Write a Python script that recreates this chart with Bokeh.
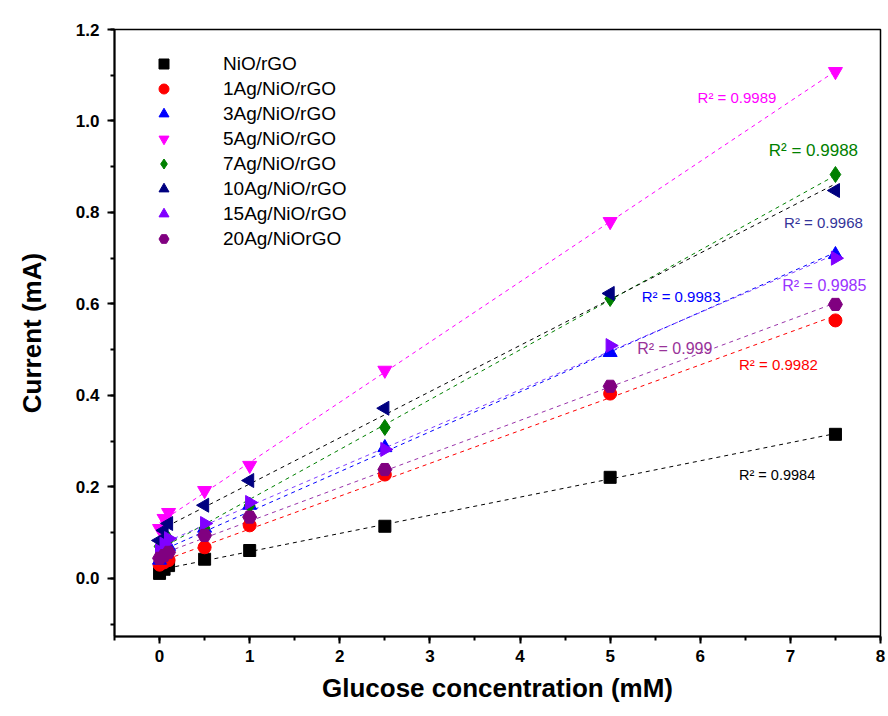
import numpy as np
from bokeh.plotting import figure
from bokeh.models import Range1d, Legend, LegendItem, PrintfTickFormatter, FixedTicker
from bokeh.core.properties import value
from bokeh.embed import file_html
from bokeh.resources import INLINE

# ---- data ----
conc = [0, 0.05, 0.1, 0.5, 1, 2.5, 5, 7.5]
nio_rgo     = [0.011, 0.020, 0.028, 0.042, 0.061, 0.114, 0.221, 0.315]
ag1_nio_rgo = [0.030, 0.035, 0.040, 0.068, 0.116, 0.227, 0.404, 0.564]
ag3_nio_rgo = [0.040, 0.055, 0.070, 0.110, 0.160, 0.286, 0.494, 0.708]
ag5_nio_rgo = [0.109, 0.131, 0.144, 0.192, 0.247, 0.455, 0.780, 1.108]
ag7_nio_rgo = [0.070, 0.075, 0.085, 0.110, 0.160, 0.330, 0.612, 0.883]
ag10_nio_rgo = [0.083, 0.105, 0.120, 0.160, 0.214, 0.372, 0.623, 0.848]
ag15_nio_rgo = [0.060, 0.075, 0.087, 0.120, 0.166, 0.282, 0.509, 0.700]
ag20_nio_rgo = [0.044, 0.050, 0.057, 0.094, 0.134, 0.238, 0.420, 0.599]

series_names = ["NiO/rGO", "1Ag/NiO/rGO", "3Ag/NiO/rGO", "5Ag/NiO/rGO",
                "7Ag/NiO/rGO", "10Ag/NiO/rGO", "15Ag/NiO/rGO", "20Ag/NiOrGO"]
series_values = [nio_rgo, ag1_nio_rgo, ag3_nio_rgo, ag5_nio_rgo,
                 ag7_nio_rgo, ag10_nio_rgo, ag15_nio_rgo, ag20_nio_rgo]
r2_texts = ["R² = 0.9984", "R² = 0.9982", "R² = 0.9983", "R² = 0.9989",
            "R² = 0.9988", "R² = 0.9968", "R² = 0.9985", "R² = 0.999"]
# anchor (data coords) of each R² annotation
r2_x = [6.43, 6.43, 5.35, 5.97, 6.76, 6.93, 6.91, 5.30]
r2_y = [0.225, 0.468, 0.616, 1.051, 0.936, 0.778, 0.640, 0.503]

x_ticks = [0, 1, 2, 3, 4, 5, 6, 7, 8]
y_ticks = [0.0, 0.2, 0.4, 0.6, 0.8, 1.0, 1.2]

# ---- styles ----
marker_colors = ["#000000", "#ff0000", "#0000ff", "#ff00ff",
                 "#008000", "#000080", "#8000ff", "#800080"]
line_colors = ["#000000", "#ff0000", "#0000ff", "#ff00ff",
               "#008000", "#000000", "#7f3fff", "#9933aa"]
text_colors = ["#000000", "#ff0000", "#0000ff", "#ff00ff",
               "#008000", "#333399", "#9933ff", "#993399"]
text_sizes = ["14.5px", "15px", "15px", "15px", "17px", "15px", "16px", "16px"]
markers = ["square", "circle", "triangle", "inverted_triangle",
           "diamond", "triangle", "triangle", "hex"]
angles = [0, 0, 0, 0, 0, np.pi / 2, -np.pi / 2, 0]
sizes = [12, 13, 14, 14, 16, 14, 14, 14]

FONT = "Liberation Sans"

p = figure(width=888, height=716, output_backend="svg", toolbar_location=None,
           x_range=Range1d(-0.5, 8), y_range=Range1d(-0.127, 1.2),
           min_border_left=114, min_border_right=8, min_border_top=29,
           min_border_bottom=80)
p.grid.visible = False
p.outline_line_color = "black"
p.outline_line_width = 1.5
p.background_fill_color = "white"
p.border_fill_color = "white"

# fitted dashed lines
xfit = np.array([0.0, 7.5])
for vals, lc in zip(series_values, line_colors):
    k, b = np.polyfit(conc, vals, 1)
    p.line(xfit, k * xfit + b, line_color=lc, line_dash="4 4", line_width=1)

items = []
for name, vals, mk, mc, ang, sz in zip(series_names, series_values, markers,
                                        marker_colors, angles, sizes):
    r = p.scatter(conc, vals, marker=mk, size=sz, angle=ang,
                  fill_color=mc, line_color=mc)
    items.append(LegendItem(label=name, renderers=[r]))

for t, tx, ty, tc, ts in zip(r2_texts, r2_x, r2_y, text_colors, text_sizes):
    p.text(x=[tx], y=[ty], text=[t], text_color=tc, text_font=value(FONT),
           text_font_size=ts, text_baseline="middle", text_align="left")

legend = Legend(items=items, location=(37, 385), border_line_color=None,
                background_fill_alpha=0, label_text_font=FONT,
                label_text_font_size="19px", label_text_color="black",
                glyph_width=25, glyph_height=25,
                label_height=25, spacing=0, label_standoff=47, padding=0,
                margin=0)
p.add_layout(legend)

# axes
for ax in (p.xaxis[0], p.yaxis[0]):
    ax.axis_line_width = 2
    ax.major_tick_line_width = 2
    ax.minor_tick_line_width = 2
    ax.major_tick_out = 7
    ax.major_tick_in = 0
    ax.minor_tick_out = 4
    ax.minor_tick_in = 0
    ax.major_label_text_font = FONT
    ax.major_label_text_font_style = "bold"
    ax.major_label_text_font_size = "17px"
    ax.major_label_text_color = "black"
    ax.axis_label_text_font = FONT
    ax.axis_label_text_font_style = "bold"
    ax.axis_label_text_font_size = "26px"
    ax.axis_label_text_color = "black"

p.xaxis.ticker = FixedTicker(ticks=x_ticks, minor_ticks=list(np.arange(-0.5, 8.01, 0.5)))
p.yaxis.ticker = FixedTicker(ticks=y_ticks, minor_ticks=list(np.round(np.arange(-0.1, 1.21, 0.1), 2)))
p.yaxis.formatter = PrintfTickFormatter(format="%.1f")
p.xaxis.axis_label = "Glucose concentration (mM)"
p.yaxis.axis_label = "Current (mA)"
p.xaxis.major_label_standoff = 6
p.yaxis.major_label_standoff = 8
p.xaxis.axis_label_standoff = 8
p.yaxis.axis_label_standoff = 26

open("out.html", "w").write(file_html(p, INLINE))
